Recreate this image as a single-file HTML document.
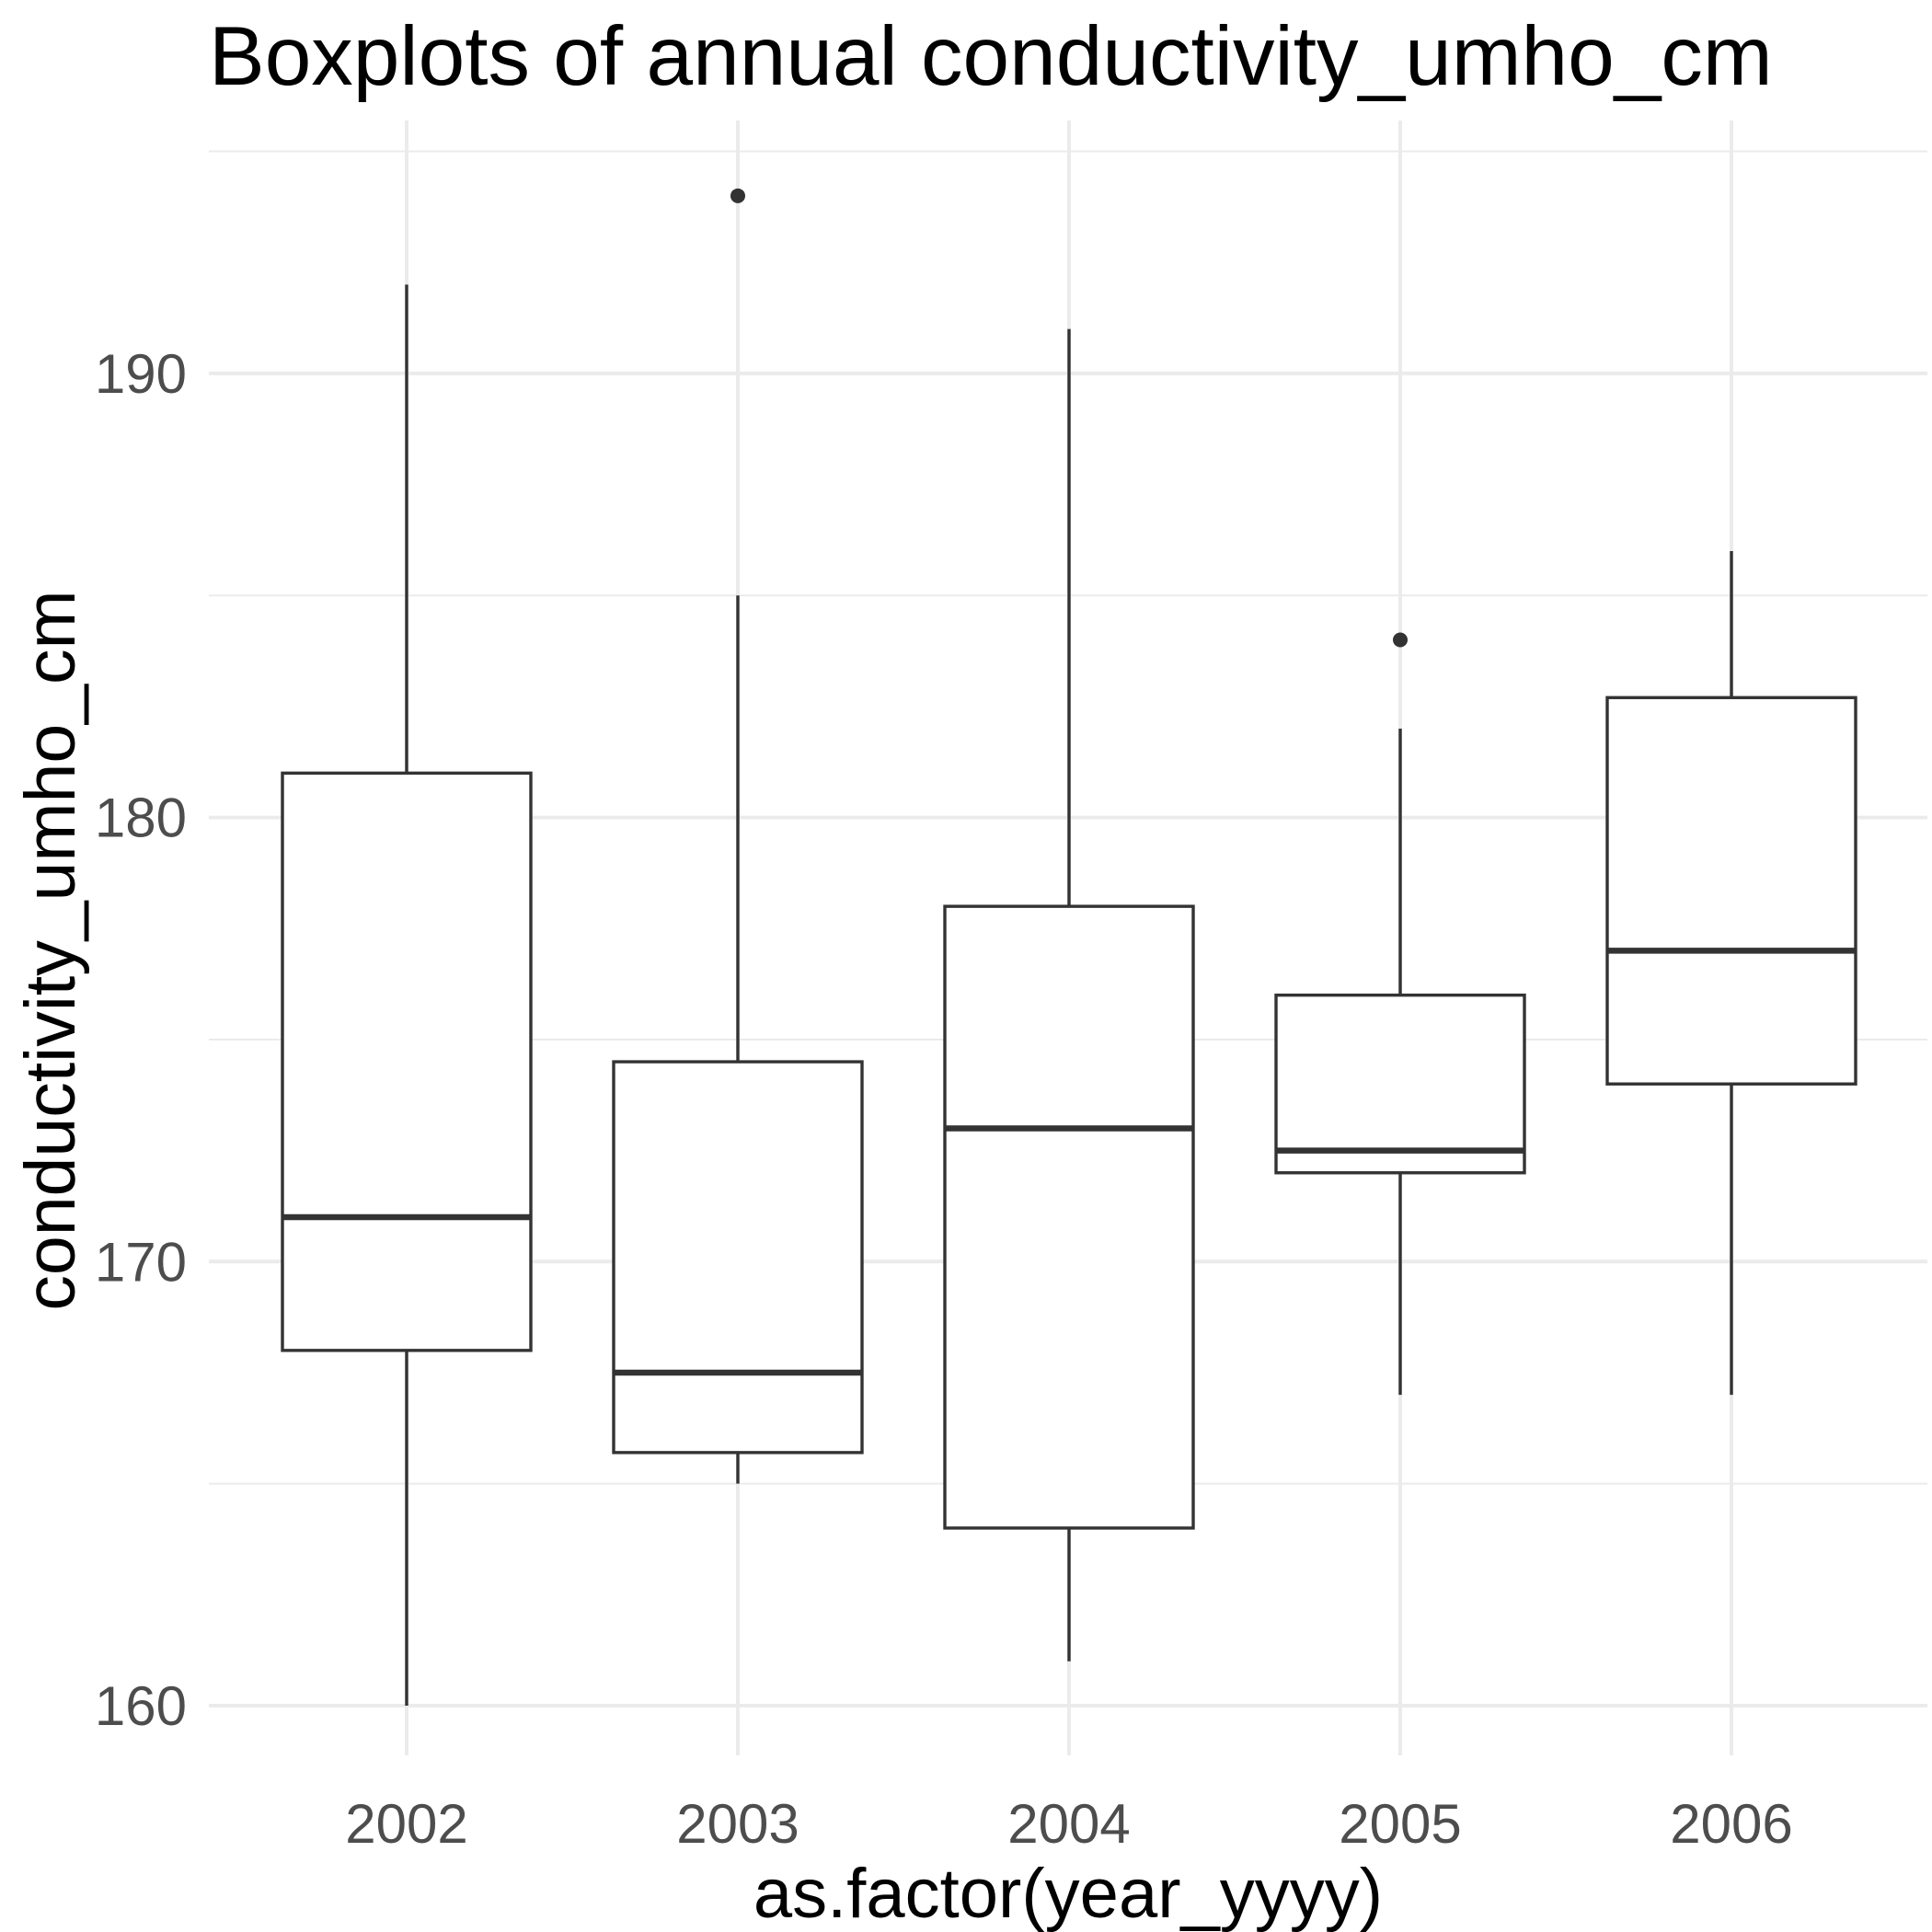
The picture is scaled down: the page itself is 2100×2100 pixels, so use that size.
<!DOCTYPE html>
<html><head><meta charset="utf-8"><style>
html,body{margin:0;padding:0;background:#fff;}
svg{display:block;font-family:"Liberation Sans",Arial,sans-serif;}
</style></head><body>
<svg id="chart" width="2100" height="2100" viewBox="0 0 2100 2100">
<text x="227" y="92" font-size="91" fill="#000">Boxplots of annual conductivity_umho_cm</text>
<g id="grid"></g>
<g id="yticks"></g>
<g id="xticks"></g>
<g id="boxes"></g>
<text x="1161" y="2084" font-size="76" text-anchor="middle" fill="#000">as.factor(year_yyyy)</text>
<text transform="translate(81,1033) rotate(-90)" font-size="77" text-anchor="middle" fill="#000">conductivity_umho_cm</text>
</svg>
<script>
const categories = ["2002","2003","2004","2005","2006"];
const lowWhisker = [160,165,161,167,167];
const q1 = [168,165.7,164,172,174];
const median = [171,167.5,173,172.5,177];
const q3 = [181,174.5,178,176,182.7];
const highWhisker = [192,185,191,182,186];
const outliers = [[],[194],[],[184],[]];
const yMajor = [160,170,180,190];
const yMinor = [165,175,185,195];

const NS="http://www.w3.org/2000/svg";
const X0=227,X1=2095,YT=131,YB=1908;
function y(v){return 1854-(v-160)*48.27;}
function x(i){return 442+360*i;}
const HW=135;
function mk(tag,attrs,parent){const e=document.createElementNS(NS,tag);for(const k in attrs)e.setAttribute(k,attrs[k]);parent.appendChild(e);return e;}
const grid=document.getElementById('grid');
yMinor.forEach(v=>{
  const l=mk('line',{x1:X0,x2:X1,y1:y(v),y2:y(v),stroke:'#ebebeb','stroke-width':2},grid);
  
  
});
yMajor.forEach(v=>{
  const l=mk('line',{x1:X0,x2:X1,y1:y(v),y2:y(v),stroke:'#ebebeb','stroke-width':4},grid);
  
  
});
categories.forEach((c,i)=>{
  const l=mk('line',{x1:x(i),x2:x(i),y1:YT,y2:YB,stroke:'#ebebeb','stroke-width':4},grid);
  
  
});
const yt=document.getElementById('yticks');
yMajor.forEach(v=>{
  const t=mk('text',{x:203,y:y(v)+21,'font-size':60,'text-anchor':'end',fill:'#4d4d4d'},yt);
  t.textContent=v;
  
  
});
const xt=document.getElementById('xticks');
categories.forEach((c,i)=>{
  const t=mk('text',{x:x(i),y:2003,'font-size':60,'text-anchor':'middle',fill:'#4d4d4d'},xt);
  t.textContent=c;
  
  
});
const bx=document.getElementById('boxes');
categories.forEach((c,i)=>{
  const g=mk('g',{},bx);
  
  
  const col='#333333';
  const w1=mk('line',{x1:x(i),x2:x(i),y1:y(highWhisker[i]),y2:y(q3[i]),stroke:col,'stroke-width':3.4},g);
  
  
  const w2=mk('line',{x1:x(i),x2:x(i),y1:y(q1[i]),y2:y(lowWhisker[i]),stroke:col,'stroke-width':3.4},g);
  
  
  const r=mk('rect',{x:x(i)-HW,y:y(q3[i]),width:2*HW,height:y(q1[i])-y(q3[i]),fill:'#fff',stroke:col,'stroke-width':3.4},g);
  
  
  const m=mk('line',{x1:x(i)-HW,x2:x(i)+HW,y1:y(median[i]),y2:y(median[i]),stroke:col,'stroke-width':6.5},g);
  
  
  outliers[i].forEach(o=>{
    const p=mk('circle',{cx:x(i),cy:y(o),r:8,fill:col},g);
    
    
  });
});
</script>
</body></html>
